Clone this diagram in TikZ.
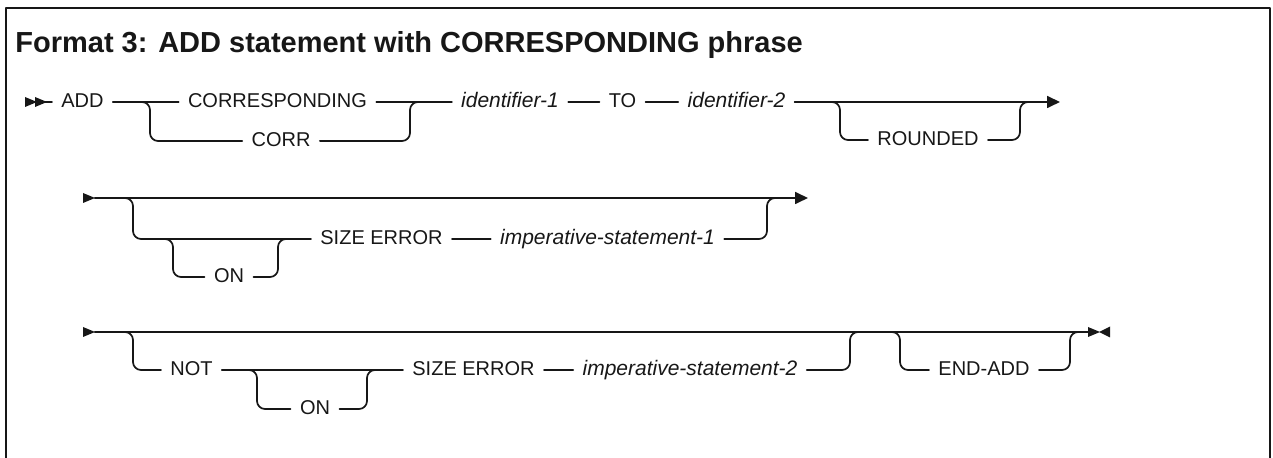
\documentclass[tikz,border=0pt]{standalone}
\usepackage{fontspec}
\setmainfont{Liberation Sans}
\usetikzlibrary{arrows.meta}
\begin{document}
\begin{tikzpicture}[x=0.5pt,y=-0.5pt,line join=round,line cap=round]%add3
            \definecolor{ink}{rgb}{0.09,0.09,0.09}
            \useasboundingbox (0,0) rectangle (1273,458);
            \tikzset{
                kw/.style={inner xsep=4.5pt,inner ysep=0pt,text height=7.2pt,text depth=1.9pt,
                    font=\fontsize{10}{12}\selectfont,text=ink},
                var/.style={kw,font=\fontsize{10.5}{12}\selectfont\itshape},
                rail/.style={draw=ink,line width=0.85pt},
                rnd/.style={rail,rounded corners=4pt},
                tip/.style={rail,-{Triangle[length=6.5pt,width=6pt]}}
            }
            \def\R{ -- ++(0,5) -- ++(12,-5) -- ++(-12,-5) -- cycle}
            \def\L{ -- ++(0,5.5) -- ++(-11,-5.5) -- ++(11,-5.5) -- cycle}
            % frame and title
            \draw[ink,line width=1.3pt] (6,470) -- (6,8) -- (1270,8) -- (1270,470);
            \node[anchor=base west,inner sep=0pt,font=\fontsize{14.5}{16}\selectfont\bfseries,text=ink]
                (title) at (15,53) {Format 3: ADD statement with CORRESPONDING phrase};
            % line 1
            \coordinate (s1) at (25,102);
            \coordinate (b1) at (150,102);
            \coordinate (j1) at (410,102);
            \coordinate (b2) at (840,102);
            \coordinate (j2) at (1020,102);
            \coordinate (e1) at (1060,102);
            \node[kw] (add) at (82.5,102) {ADD};
            \node[kw] (corresp) at (277.5,102) {CORRESPONDING};
            \node[kw] (corr) at (281,141) {CORR};
            \node[var] (idA) at (510,102) {identifier-1};
            \node[kw] (to) at (622.5,102) {TO};
            \node[var] (idB) at (736.5,102) {identifier-2};
            \node[kw] (rounded) at (928,140) {ROUNDED};
            \fill[ink] (s1)\R;
            \fill[ink] (35,102)\R;
            \draw[rail] (45,102) -- (add.west);
            \draw[rail] (add.east) -- (corresp.west);
            \draw[rnd] (add.east) -- (b1) -- (b1 |- corr) -- (corr.west);
            \draw[rail] (corresp.east) -- (idA.west);
            \draw[rnd] (corr.east) -- (j1 |- corr) -- (j1) -- (idA.west);
            \draw[rail] (idA.east) -- (to.west);
            \draw[rail] (to.east) -- (idB.west);
            \draw[tip] (idB.east) -- (e1);
            \draw[rnd] (idB.east) -- (b2) -- (b2 |- rounded) -- (rounded.west);
            \draw[rnd] (rounded.east) -- (j2 |- rounded) -- (j2) -- ++(10,0);
            % line 2
            \coordinate (s2) at (83,198);
            \coordinate (b3) at (133,198);
            \coordinate (b4) at (173,239);
            \coordinate (j4) at (278,239);
            \coordinate (j5) at (767,198);
            \coordinate (e2) at (808,198);
            \node[kw] (on1) at (229,277) {ON};
            \node[kw] (size1) at (381.5,239) {SIZE ERROR};
            \node[var] (imp1) at (607.5,239) {imperative-statement-1};
            \fill[ink] (s2)\R;
            \draw[tip] (95,198) -- (e2);
            \draw[rnd] (95,198) -- (b3) -- (b3 |- size1) -- (size1.west);
            \draw[rnd] (b4) ++(-8,0) -- (b4) -- (b4 |- on1) -- (on1.west);
            \draw[rnd] (on1.east) -- (j4 |- on1) -- (j4) -- ++(10,0);
            \draw[rail] (size1.east) -- (imp1.west);
            \draw[rnd] (imp1.east) -- (j5 |- imp1) -- (j5) -- ++(10,0);
            % line 3
            \coordinate (s3) at (83,332);
            \coordinate (b5) at (133,332);
            \coordinate (b6) at (257,370);
            \coordinate (j6) at (367,370);
            \coordinate (j7) at (850,332);
            \coordinate (b8) at (900,332);
            \coordinate (j8) at (1070,332);
            \coordinate (e3) at (1088,332);
            \node[kw] (not) at (191.5,370) {NOT};
            \node[kw] (on2) at (315,409) {ON};
            \node[kw] (size2) at (473.5,370) {SIZE ERROR};
            \node[var] (imp2) at (690,370) {imperative-statement-2};
            \node[kw] (endadd) at (984,370) {END-ADD};
            \fill[ink] (s3)\R;
            \draw[rail] (95,332) -- (e3);
            \draw[rnd] (95,332) -- (b5) -- (b5 |- not) -- (not.west);
            \draw[rail] (not.east) -- (size2.west);
            \draw[rnd] (not.east) -- (b6) -- (b6 |- on2) -- (on2.west);
            \draw[rnd] (on2.east) -- (j6 |- on2) -- (j6) -- ++(10,0);
            \draw[rail] (size2.east) -- (imp2.west);
            \draw[rnd] (imp2.east) -- (j7 |- imp2) -- (j7) -- ++(10,0);
            \draw[rnd] (b8) ++(-10,0) -- (b8) -- (b8 |- endadd) -- (endadd.west);
            \draw[rnd] (endadd.east) -- (j8 |- endadd) -- (j8) -- ++(10,0);
            \fill[ink] (e3)\R;
            \fill[ink] (1110,332)\L;
    \end{tikzpicture}
\end{document}
